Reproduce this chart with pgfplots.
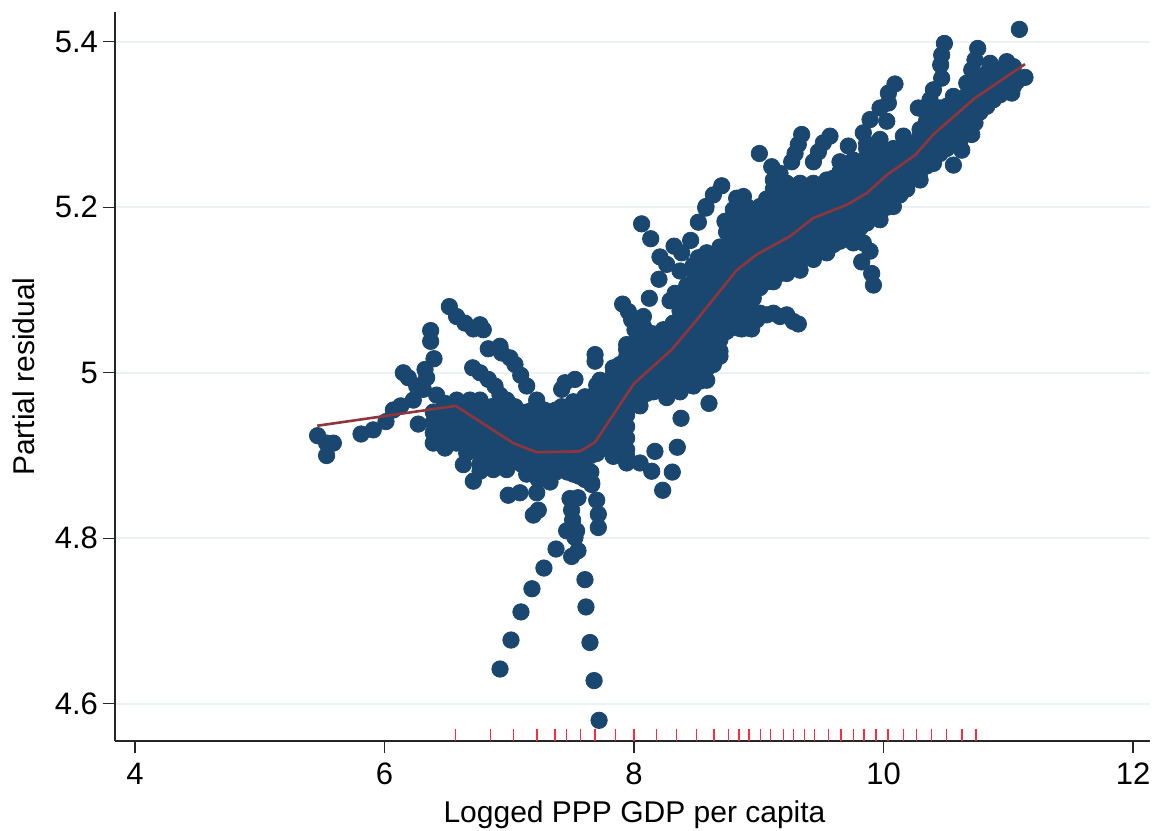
\documentclass[border=0pt]{standalone}
\usepackage{fontspec}
\setmainfont{Liberation Sans}
\usepackage{pgfplots}
\pgfplotsset{compat=1.18}
\definecolor{stnavy}{HTML}{1A476F}
\definecolor{stred}{HTML}{90353B}
\definecolor{stgrid}{HTML}{EAF2F3}
\definecolor{rugred}{HTML}{FF2A3C}
\begin{document}
\begin{tikzpicture}[x=1pt,y=1pt]
\path[use as bounding box] (0,0) rectangle (578,415);
\begin{axis}[
    at={(57.5pt,44.5pt)},
    anchor=south west,
    scale only axis,
    width=517.5pt,
    height=364.5pt,
    xmin=3.84, xmax=12.136,
    ymin=4.555, ymax=5.436,
    axis x line*=bottom,
    axis y line*=left,
    axis line style={line width=0.7pt,color=black!85},
    xtick={4,6,8,10,12},
    ytick={4.6,4.8,5,5.2,5.4},
    ymajorgrids,
    grid style={stgrid,line width=1pt},
    tick style={line width=0.7pt,color=black!85},
    tick align=outside,
    major tick length=6pt,
    clip mode=individual,
    /pgf/number format/assume math mode=true,
    ticklabel style={font=\fontsize{15.5}{17}\selectfont},
    xticklabel style={yshift=-1.5pt},
    yticklabel style={xshift=1pt},
    xlabel={Logged PPP GDP per capita},
    ylabel={Partial residual},
    label style={font=\fontsize{15}{17}\selectfont},
    xlabel style={yshift=-1pt,xshift=1pt},
    ylabel style={yshift=3pt},
]
% scatter, isolated points and arms
\addplot[only marks,stnavy,mark=*,mark size=4.1pt,mark options={fill=stnavy}] coordinates {
(7.720,4.580)(7.680,4.628)(7.647,4.674)(7.615,4.717)(7.607,4.750)
(6.926,4.642)(7.014,4.677)(7.094,4.711)(7.182,4.739)(7.278,4.764)(7.375,4.787)
(7.500,4.778)(7.551,4.785)(7.527,4.801)(7.460,4.809)(7.540,4.809)(7.508,4.822)(7.500,4.834)(7.487,4.848)(7.551,4.849)
(7.714,4.813)(7.714,4.829)(7.701,4.846)(7.661,4.865)(7.233,4.834)(7.193,4.828)
(6.992,4.852)(7.086,4.855)(7.220,4.855)
(5.464,4.924)(5.590,4.915)(5.536,4.900)(5.536,4.915)(5.812,4.926)(5.910,4.931)(6.012,4.941)(6.071,4.955)
(6.130,4.960)(6.231,4.967)(6.151,5.000)(6.191,4.994)(6.258,4.984)(6.325,5.004)(6.338,4.994)(6.397,5.017)(6.370,5.038)(6.370,5.051)
(6.311,4.980)(6.418,4.973)(6.271,4.938)
(6.520,5.080)(6.578,5.068)(6.645,5.060)(6.712,5.053)(6.766,5.058)(6.792,5.052)
(6.832,5.029)(6.926,5.032)(6.939,5.024)(7.006,5.018)(7.046,5.010)(7.092,4.997)(7.140,4.984)
(6.707,5.006)(6.766,5.000)(6.832,4.992)(6.886,4.984)(6.926,4.973)(6.579,4.967)(6.685,4.967)(6.766,4.967)(6.979,4.967)(7.220,4.967)
(7.447,4.988)(7.527,4.992)(7.420,4.980)(7.688,5.022)(7.688,5.014)
(6.712,4.869)(6.632,4.889)(6.659,4.903)(6.766,4.881)(6.872,4.883)(6.979,4.883)
(7.661,4.867)
(8.061,5.180)(8.134,5.162)(8.208,5.140)(8.262,5.131)(8.321,5.153)(8.382,5.145)(8.454,5.160)(8.516,5.182)(8.575,5.199)
(8.200,5.113)(8.123,5.090)(8.329,5.096)(8.289,5.087)(8.369,5.123)(8.516,5.139)
(7.909,5.083)(7.955,5.074)(8.075,5.068)(7.981,5.064)(8.008,5.052)(8.075,5.056)(7.941,5.034)(8.235,5.052)
(8.168,4.905)(8.142,4.881)(8.048,4.891)(7.941,4.899)(7.834,4.899)
(8.307,4.880)(8.230,4.858)(8.347,4.910)(8.377,4.945)(8.601,4.963)(8.684,5.020)(8.743,5.052)
(9.277,5.062)(9.170,5.068)(9.063,5.070)(8.983,5.064)(8.863,5.053)(8.943,5.053)
(8.703,5.226)(8.636,5.215)(8.577,5.201)(8.877,5.213)(8.823,5.211)(8.729,5.183)
(9.005,5.265)(9.104,5.249)(9.170,5.241)
(9.344,5.288)(9.317,5.276)(9.291,5.265)(9.264,5.255)
(9.571,5.286)(9.518,5.278)(9.478,5.267)(9.438,5.255)(9.718,5.274)(9.651,5.255)
(10.092,5.349)(10.039,5.338)(10.039,5.326)(9.972,5.320)(10.026,5.304)(9.892,5.306)(9.838,5.290)(9.972,5.282)(10.159,5.286)
(10.279,5.320)(10.488,5.398)(10.466,5.384)(10.458,5.372)(10.466,5.356)(10.400,5.342)(10.373,5.330)
(10.755,5.392)(10.733,5.378)(10.707,5.366)(10.854,5.374)(10.988,5.376)(11.089,5.415)(11.134,5.357)(11.028,5.338)(10.881,5.330)
(11.068,5.352)(10.934,5.346)(10.800,5.350)(10.667,5.350)(10.560,5.334)
(9.919,5.106)(9.905,5.120)(9.825,5.134)(9.892,5.147)(9.838,5.157)
(9.317,5.059)(9.224,5.070)(9.117,5.072)(9.010,5.072)(8.917,5.054)(8.836,5.054)
(10.560,5.251)(10.627,5.269)(10.707,5.288)(10.733,5.302)
};
% scatter, cloud on the left
\addplot[only marks,stnavy,mark=*,mark size=4.1pt,mark options={fill=stnavy}] coordinates {
(6.391,4.915)(6.391,4.9275)(6.391,4.940)(6.391,4.9525)
(6.485,4.909)(6.485,4.921)(6.485,4.934)(6.485,4.946)(6.485,4.959)(6.485,4.963)
(6.578,4.915)(6.578,4.9275)(6.578,4.940)(6.578,4.9525)
(6.672,4.909)(6.672,4.921)(6.672,4.934)(6.672,4.946)(6.672,4.959)
(6.766,4.890)(6.766,4.9025)(6.766,4.915)(6.766,4.9275)(6.766,4.940)(6.766,4.9525)
(6.859,4.896)(6.859,4.909)(6.859,4.921)(6.859,4.934)(6.859,4.946)(6.859,4.959)
(6.953,4.890)(6.953,4.9025)(6.953,4.915)(6.953,4.9275)(6.953,4.940)(6.953,4.9525)
(7.046,4.896)(7.046,4.909)(7.046,4.921)(7.046,4.934)(7.046,4.946)(7.046,4.959)
(7.140,4.8775)(7.140,4.890)(7.140,4.9025)(7.140,4.915)(7.140,4.9275)(7.140,4.940)(7.140,4.9525)
(7.233,4.871)(7.233,4.884)(7.233,4.896)(7.233,4.909)(7.233,4.921)(7.233,4.934)(7.233,4.946)(7.233,4.959)
(7.327,4.868)(7.327,4.8775)(7.327,4.890)(7.327,4.9025)(7.327,4.915)(7.327,4.9275)(7.327,4.940)(7.327,4.9525)
(7.420,4.884)(7.420,4.896)(7.420,4.909)(7.420,4.921)(7.420,4.934)(7.420,4.946)(7.420,4.959)
(7.514,4.8775)(7.514,4.890)(7.514,4.9025)(7.514,4.915)(7.514,4.9275)(7.514,4.940)(7.514,4.9525)(7.514,4.965)
(7.607,4.871)(7.607,4.884)(7.607,4.896)(7.607,4.909)(7.607,4.921)(7.607,4.934)(7.607,4.946)(7.607,4.959)(7.607,4.971)
(7.701,4.9025)(7.701,4.915)(7.701,4.9275)(7.701,4.940)(7.701,4.9525)(7.701,4.965)(7.701,4.9775)(7.701,4.985)
(6.438,4.925)(6.438,4.945)
(6.531,4.920)(6.531,4.940)(6.531,4.955)
(6.625,4.920)(6.625,4.940)(6.625,4.955)
(6.719,4.910)(6.719,4.930)(6.719,4.950)
(6.812,4.900)(6.812,4.920)(6.812,4.940)(6.812,4.955)
(6.906,4.900)(6.906,4.920)(6.906,4.940)(6.906,4.955)
(7.000,4.900)(7.000,4.920)(7.000,4.940)(7.000,4.955)
(7.093,4.890)(7.093,4.910)(7.093,4.930)(7.093,4.950)
(7.186,4.880)(7.186,4.900)(7.186,4.920)(7.186,4.940)(7.186,4.955)
(7.280,4.875)(7.280,4.895)(7.280,4.915)(7.280,4.935)(7.280,4.955)
(7.373,4.880)(7.373,4.900)(7.373,4.920)(7.373,4.940)(7.373,4.955)
(7.467,4.880)(7.467,4.900)(7.467,4.920)(7.467,4.940)(7.467,4.955)
(7.560,4.875)(7.560,4.895)(7.560,4.915)(7.560,4.935)(7.560,4.955)
(7.654,4.880)(7.654,4.900)(7.654,4.920)(7.654,4.940)(7.654,4.960)
};
% scatter, main band
\addplot[only marks,stnavy,mark=*,mark size=4.1pt,mark options={fill=stnavy}] coordinates {
(7.727,4.907)(7.727,4.921)(7.727,4.935)(7.727,4.949)(7.727,4.963)(7.727,4.977)(7.727,4.991)
(7.834,4.900)(7.834,4.914)(7.834,4.928)(7.834,4.942)(7.834,4.956)(7.834,4.970)(7.834,4.984)(7.834,4.998)(7.834,5.006)
(7.941,4.891)(7.941,4.907)(7.941,4.921)(7.941,4.935)(7.941,4.949)(7.941,4.963)(7.941,4.977)(7.941,4.991)(7.941,5.005)(7.941,5.019)(7.941,5.028)
(8.048,4.960)(8.048,4.970)(8.048,4.984)(8.048,4.998)(8.048,5.012)(8.048,5.026)(8.048,5.040)(8.048,5.054)(8.048,5.062)
(8.155,4.977)(8.155,4.991)(8.155,5.005)(8.155,5.019)(8.155,5.033)(8.155,5.047)
(8.262,4.970)(8.262,4.984)(8.262,4.998)(8.262,5.012)(8.262,5.026)(8.262,5.040)(8.262,5.052)
(8.369,4.977)(8.369,4.991)(8.369,5.005)(8.369,5.019)(8.369,5.033)(8.369,5.047)(8.369,5.061)(8.369,5.075)(8.369,5.088)
(8.476,4.984)(8.476,4.998)(8.476,5.012)(8.476,5.026)(8.476,5.040)(8.476,5.054)(8.476,5.068)(8.476,5.082)(8.476,5.096)(8.476,5.110)(8.476,5.124)(8.476,5.130)
(8.583,4.991)(8.583,5.005)(8.583,5.019)(8.583,5.033)(8.583,5.047)(8.583,5.061)(8.583,5.075)(8.583,5.089)(8.583,5.103)(8.583,5.117)(8.583,5.131)(8.583,5.145)
(8.689,5.020)(8.689,5.026)(8.689,5.040)(8.689,5.054)(8.689,5.068)(8.689,5.082)(8.689,5.096)(8.689,5.110)(8.689,5.124)(8.689,5.138)(8.689,5.152)
(8.796,5.061)(8.796,5.075)(8.796,5.089)(8.796,5.103)(8.796,5.117)(8.796,5.131)(8.796,5.145)(8.796,5.159)(8.796,5.173)(8.796,5.187)(8.796,5.197)
(8.903,5.072)(8.903,5.082)(8.903,5.096)(8.903,5.110)(8.903,5.124)(8.903,5.138)(8.903,5.152)(8.903,5.166)(8.903,5.180)(8.903,5.194)(8.903,5.201)
(9.010,5.103)(9.010,5.117)(9.010,5.131)(9.010,5.145)(9.010,5.159)(9.010,5.173)(9.010,5.187)(9.010,5.201)
(9.117,5.110)(9.117,5.124)(9.117,5.138)(9.117,5.152)(9.117,5.166)(9.117,5.180)(9.117,5.194)(9.117,5.208)(9.117,5.222)(9.117,5.233)
(9.224,5.120)(9.224,5.131)(9.224,5.145)(9.224,5.159)(9.224,5.173)(9.224,5.187)(9.224,5.201)(9.224,5.215)(9.224,5.229)
(9.331,5.124)(9.331,5.138)(9.331,5.152)(9.331,5.166)(9.331,5.180)(9.331,5.194)(9.331,5.208)(9.331,5.222)(9.331,5.229)
(9.438,5.137)(9.438,5.145)(9.438,5.159)(9.438,5.173)(9.438,5.187)(9.438,5.201)(9.438,5.215)(9.438,5.229)
(9.545,5.145)(9.545,5.152)(9.545,5.166)(9.545,5.180)(9.545,5.194)(9.545,5.208)(9.545,5.222)(9.545,5.233)
(9.651,5.159)(9.651,5.173)(9.651,5.187)(9.651,5.201)(9.651,5.215)(9.651,5.229)(9.651,5.243)
(9.758,5.157)(9.758,5.166)(9.758,5.180)(9.758,5.194)(9.758,5.208)(9.758,5.222)(9.758,5.236)(9.758,5.250)(9.758,5.257)
(9.865,5.181)(9.865,5.187)(9.865,5.201)(9.865,5.215)(9.865,5.229)(9.865,5.243)(9.865,5.257)(9.865,5.271)(9.865,5.277)
(9.972,5.185)(9.972,5.194)(9.972,5.208)(9.972,5.222)(9.972,5.236)(9.972,5.250)(9.972,5.264)(9.972,5.273)
(10.079,5.201)(10.079,5.215)(10.079,5.229)(10.079,5.243)(10.079,5.257)(10.079,5.271)
(10.186,5.222)(10.186,5.236)(10.186,5.250)(10.186,5.264)(10.186,5.278)
(10.293,5.233)(10.293,5.243)(10.293,5.257)(10.293,5.271)(10.293,5.285)(10.293,5.294)
(10.400,5.253)(10.400,5.264)(10.400,5.278)(10.400,5.292)(10.400,5.306)(10.400,5.320)
(10.506,5.271)(10.506,5.285)(10.506,5.299)(10.506,5.313)(10.506,5.322)
(10.613,5.281)(10.613,5.292)(10.613,5.306)(10.613,5.320)(10.613,5.330)
(10.720,5.302)(10.720,5.313)(10.720,5.327)(10.720,5.341)(10.720,5.354)
(10.827,5.322)(10.827,5.334)(10.827,5.348)(10.827,5.362)
(10.934,5.336)(10.934,5.341)(10.934,5.355)(10.934,5.366)
(11.041,5.346)(11.041,5.358)(11.041,5.370)
(7.780,4.920)(7.780,4.940)(7.780,4.960)(7.780,4.980)
(7.887,4.910)(7.887,4.930)(7.887,4.950)(7.887,4.970)(7.887,4.990)(7.887,5.010)
(7.995,4.975)(7.995,4.995)(7.995,5.015)(7.995,5.035)
(8.101,4.975)(8.101,4.995)(8.101,5.015)(8.101,5.035)(8.101,5.050)
(8.208,4.980)(8.208,5.000)(8.208,5.020)(8.208,5.040)
(8.315,4.980)(8.315,5.000)(8.315,5.020)(8.315,5.040)(8.315,5.060)
(8.422,4.985)(8.422,5.005)(8.422,5.025)(8.422,5.045)(8.422,5.065)(8.422,5.085)(8.422,5.105)
(8.529,4.990)(8.529,5.010)(8.529,5.030)(8.529,5.050)(8.529,5.070)(8.529,5.090)(8.529,5.110)(8.529,5.130)
(8.636,5.010)(8.636,5.030)(8.636,5.050)(8.636,5.070)(8.636,5.090)(8.636,5.110)(8.636,5.130)
(8.742,5.050)(8.742,5.070)(8.742,5.090)(8.742,5.110)(8.742,5.130)(8.742,5.150)(8.742,5.170)
(8.850,5.070)(8.850,5.090)(8.850,5.110)(8.850,5.130)(8.850,5.150)(8.850,5.170)(8.850,5.190)
(8.956,5.090)(8.956,5.110)(8.956,5.130)(8.956,5.150)(8.956,5.170)(8.956,5.190)
(9.063,5.110)(9.063,5.130)(9.063,5.150)(9.063,5.170)(9.063,5.190)(9.063,5.210)
(9.170,5.120)(9.170,5.140)(9.170,5.160)(9.170,5.180)(9.170,5.200)(9.170,5.220)
(9.277,5.130)(9.277,5.150)(9.277,5.170)(9.277,5.190)(9.277,5.210)(9.277,5.225)
(9.384,5.140)(9.384,5.160)(9.384,5.180)(9.384,5.200)(9.384,5.220)
(9.491,5.150)(9.491,5.170)(9.491,5.190)(9.491,5.210)(9.491,5.225)
(9.598,5.155)(9.598,5.175)(9.598,5.195)(9.598,5.215)(9.598,5.235)
(9.705,5.165)(9.705,5.185)(9.705,5.205)(9.705,5.225)(9.705,5.245)
(9.811,5.175)(9.811,5.195)(9.811,5.215)(9.811,5.235)(9.811,5.255)
(9.918,5.190)(9.918,5.210)(9.918,5.230)(9.918,5.250)(9.918,5.270)
(10.025,5.200)(10.025,5.220)(10.025,5.240)(10.025,5.260)
(10.132,5.215)(10.132,5.235)(10.132,5.255)(10.132,5.270)
(10.239,5.235)(10.239,5.255)(10.239,5.275)
(10.346,5.250)(10.346,5.270)(10.346,5.290)(10.346,5.305)
(10.453,5.265)(10.453,5.285)(10.453,5.305)(10.453,5.320)
(10.560,5.280)(10.560,5.300)(10.560,5.320)
(10.666,5.295)(10.666,5.315)(10.666,5.335)
(10.773,5.315)(10.773,5.335)(10.773,5.355)
(10.880,5.335)(10.880,5.355)
(10.987,5.345)(10.987,5.360)
};
% smoother
\addplot[stred,line width=1.3pt,no marks] coordinates {
(5.461,4.936)(6.571,4.960)(7.032,4.915)(7.220,4.904)(7.567,4.905)(7.687,4.916)(8.000,4.987)
(8.302,5.028)(8.503,5.064)(8.823,5.124)(8.984,5.143)(9.251,5.165)(9.437,5.187)(9.705,5.203)
(9.865,5.217)(10.026,5.239)(10.253,5.263)(10.399,5.288)(10.733,5.332)(11.134,5.373)
};
% rug
\addplot[only marks,rugred,mark=|,mark size=3pt,mark options={line width=0.8pt}] coordinates {
(6.568,4.5623)(6.851,4.5623)(7.035,4.5623)(7.222,4.5623)(7.368,4.5623)(7.460,4.5623)(7.571,4.5623)
(7.689,4.5623)(7.851,4.5623)(8.000,4.5623)(8.181,4.5623)(8.340,4.5623)(8.502,4.5623)(8.641,4.5623)
(8.759,4.5623)(8.841,4.5623)(8.924,4.5623)(9.013,4.5623)(9.095,4.5623)(9.197,4.5623)(9.279,4.5623)
(9.365,4.5623)(9.448,4.5623)(9.559,4.5623)(9.660,4.5623)(9.759,4.5623)(9.844,4.5623)(9.940,4.5623)
(10.035,4.5623)(10.159,4.5623)(10.263,4.5623)(10.384,4.5623)(10.505,4.5623)(10.629,4.5623)(10.743,4.5623)
};
\end{axis}
\end{tikzpicture}
\end{document}
